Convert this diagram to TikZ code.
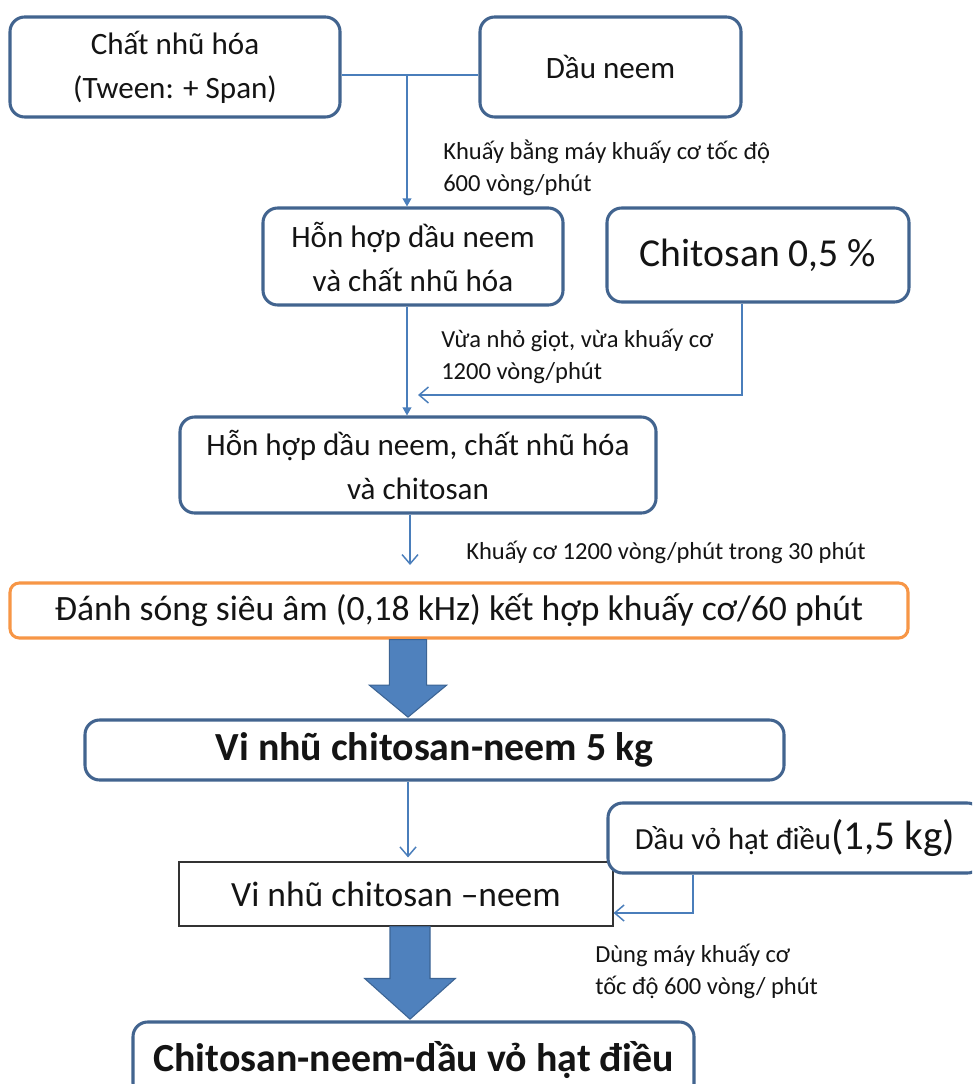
\documentclass[tikz,border=0pt]{standalone}
\usepackage{fontspec}
\setmainfont{Carlito}
\usetikzlibrary{arrows.meta,calc}
\definecolor{boxblue}{HTML}{42648F}
\definecolor{lineblue}{HTML}{4A7EBB}
\definecolor{arrowfill}{HTML}{4F81BD}
\definecolor{arrowdraw}{HTML}{3C6494}
\definecolor{boxorange}{HTML}{F79646}
\definecolor{txt}{HTML}{141414}
\tikzset{
  rbox/.style={draw=boxblue, line width=2.3pt, rounded corners=11pt, fill=white,
    align=center, inner sep=0pt, text=txt},
  fbox/.style={font=\fontsize{23.3}{33}\selectfont},
  lbl/.style={font=\fontsize{18.4}{24}\selectfont, align=left, inner sep=0pt,
    anchor=west, text=txt},
  conn/.style={draw=lineblue, line width=1.1pt},
  tri/.style={conn, -{Triangle[length=6pt,width=6.5pt]}},
  barb/.style={conn, -{Straight Barb[length=7pt,width=12pt]}},
  barrow/.style={fill=arrowfill, draw=arrowdraw, line width=0.8pt, line join=miter},
}
\begin{document}
\begin{tikzpicture}[x=0.75pt,y=-0.75pt]
\useasboundingbox (0,0) rectangle (972,1084);
\fill[white] (0,0) rectangle (972,1084);
\clip (0,0) rectangle (972,1084);

% boxes
\node[rbox,fbox,minimum width=247.5pt,minimum height=75pt] (b1) at (175,67)
  {Chất nhũ hóa\\(Tween: + Span)};
\node[rbox,fbox,minimum width=195.75pt,minimum height=75pt] (b2) at (610.5,67)
  {Dầu neem};
\node[rbox,fbox,minimum width=225pt,minimum height=72.75pt] (b3) at (413,256.5)
  {Hỗn hợp dầu neem\\và chất nhũ hóa};
\node[rbox,font=\fontsize{29.7}{36}\selectfont,minimum width=226.5pt,minimum height=70.5pt] (b4) at (758,255)
  {Chitosan 0,5 \%};
\node[rbox,fbox,minimum width=357pt,minimum height=72pt] (b5) at (418,465)
  {Hỗn hợp dầu neem, chất nhũ hóa\\và chitosan};
\node[rbox,draw=boxorange,rounded corners=7pt,font=\fontsize{26.7}{32}\selectfont,
  minimum width=673.5pt,minimum height=41.25pt] (b6) at (459,610.5)
  {Đánh sóng siêu âm (0,18 kHz) kết hợp khuấy cơ/60 phút};
\node[rbox,font=\bfseries\fontsize{29.9}{36}\selectfont,minimum width=524.25pt,minimum height=45pt] (b7) at (434.5,750)
  {Vi nhũ chitosan-neem 5 kg};
\node[draw=black!80,line width=0.9pt,fill=white,text=txt,inner sep=0pt,
  font=\fontsize{26.6}{32}\selectfont,minimum width=325.5pt,minimum height=48pt] (b8) at (396,894)
  {Vi nhũ chitosan --neem};
\node[rbox,font=\fontsize{23}{30}\selectfont,minimum width=280.5pt,minimum height=52.5pt] (b9) at (795,838)
  {\raisebox{-4pt}{Dầu vỏ hạt điều{\fontsize{30.8}{36}\selectfont(1,5 kg)}}};
\node[rbox,font=\bfseries\fontsize{29.9}{36}\selectfont,minimum width=420.75pt,minimum height=57pt] (b10) at (413.5,1060)
  {Chitosan-neem-dầu vỏ hạt điều};

% labels
\node[lbl] (l1) at (443,167.5) {Khuấy bằng máy khuấy cơ tốc độ\\600 vòng/phút};
\node[lbl] (l2) at (441,356.5) {Vừa nhỏ giọt, vừa khuấy cơ\\1200 vòng/phút};
\node[lbl] (l3) at (466,552) {Khuấy cơ 1200 vòng/phút trong 30 phút};
\node[lbl] (l4) at (595,971) {Dùng máy khuấy cơ\\tốc độ 600 vòng/ phút};

% connector coordinates
\coordinate (j1) at (407,75);
\coordinate (c1) at (742,395);
\coordinate (m1) at (418,395);
\coordinate (t1) at (410,565);
\coordinate (xc) at (408,0);
\coordinate (c2) at (693,913);

% thin connectors
\draw[conn] (b1.east |- j1) -- (b2.west |- j1);
\draw[tri] (j1) -- (j1 |- b3.north);
\draw[tri] (b3.south -| j1) -- (b5.north -| j1);
\draw[barb] (b4.south -| c1) -- (c1) -- (m1);
\draw[barb] (b5.south -| t1) -- (t1);
\draw[barb, shorten >=3pt] (b7.south -| xc) -- (b8.north -| xc);
\draw[barb] (b9.south -| c2) -- (c2) -- (b8.east |- c2);

% block arrows
\draw[barrow] let \p1=(b6.south -| xc), \p2=(b7.north -| xc) in
  (\x1-14pt,\y1) -- (\x1+14pt,\y1) -- (\x1+14pt,\y2+25pt) -- (\x1+29pt,\y2+25pt)
  -- (\x2,\y2+1pt) -- (\x1-29pt,\y2+25pt) -- (\x1-14pt,\y2+25pt) -- cycle;
\coordinate (xd) at (410,0);
\draw[barrow] let \p1=(b8.south -| xd), \p2=(b10.north -| xd) in
  (\x1-15pt,\y1) -- (\x1+15pt,\y1) -- (\x1+15pt,\y2+31.5pt) -- (\x1+34pt,\y2+31.5pt)
  -- (\x2,\y2+1pt) -- (\x1-34pt,\y2+31.5pt) -- (\x1-15pt,\y2+31.5pt) -- cycle;
\end{tikzpicture}
\end{document}
